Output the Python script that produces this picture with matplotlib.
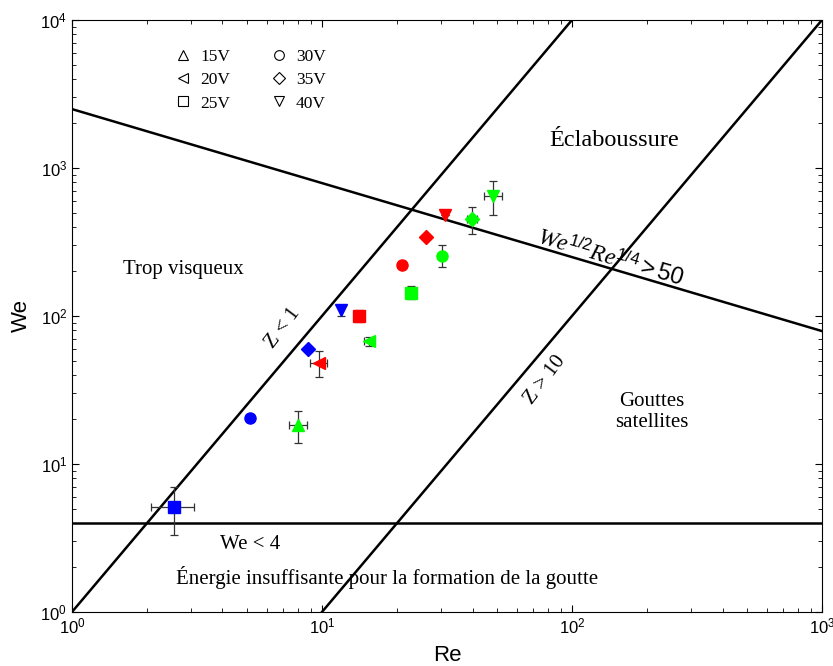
import numpy as np
import matplotlib.pyplot as plt
from matplotlib.lines import Line2D

# donnees (Re, We) par serie
markers_v = {'15V': '^', '20V': '<', '25V': 's', '30V': 'o', '35V': 'D', '40V': 'v'}

blue_v = ['25V', '30V', '35V', '40V']
blue_re = [2.56, 5.17, 8.82, 11.9]
blue_we = [5.12, 20.5, 60.1, 109.7]
blue_we_lo = [3.3, 20.5, 60.1, 100.5]
blue_we_hi = [7.0, 20.5, 60.1, 119.5]
blue_re_lo = [2.07, 5.17, 8.82, 11.9]
blue_re_hi = [3.08, 5.17, 8.82, 11.9]

red_v = ['20V', '25V', '30V', '35V', '40V']
red_re = [9.7, 14.1, 20.8, 26.0, 31.0]
red_we = [48.3, 100.5, 222, 340, 479]
red_we_lo = [38.9, 91, 222, 340, 479]
red_we_hi = [57.8, 110, 222, 340, 479]
red_re_lo = [8.95, 14.1, 20.8, 26.0, 31.0]
red_re_hi = [10.5, 14.1, 20.8, 26.0, 31.0]

green_v = ['15V', '20V', '25V', '30V', '35V', '40V']
green_re = [8.04, 15.4, 22.6, 30.1, 39.9, 48.2]
green_we = [18.4, 67.5, 143.8, 254, 452, 647]
green_we_lo = [13.9, 63, 130, 213, 359, 480]
green_we_hi = [22.8, 72, 160, 301, 549, 816]
green_re_lo = [7.4, 14.7, 22.6, 30.1, 38.0, 44.3]
green_re_hi = [8.7, 15.9, 22.6, 30.1, 41.8, 52.4]

series = [
    ('#0000ff', blue_v, blue_re, blue_we, blue_re_lo, blue_re_hi, blue_we_lo, blue_we_hi),
    ('#ff0000', red_v, red_re, red_we, red_re_lo, red_re_hi, red_we_lo, red_we_hi),
    ('#00ff00', green_v, green_re, green_we, green_re_lo, green_re_hi, green_we_lo, green_we_hi),
]

plt.rcParams['font.family'] = 'Liberation Sans'
plt.rcParams['mathtext.fontset'] = 'custom'
plt.rcParams['mathtext.rm'] = 'Liberation Sans'
plt.rcParams['mathtext.it'] = 'Liberation Serif:italic'

fig = plt.figure(figsize=(8.33, 6.66), dpi=100)
ax = fig.add_axes([0.0864, 0.0811, 0.9004, 0.8889])
ax.set_xscale('log')
ax.set_yscale('log')
ax.set_xlim(1, 1000)
ax.set_ylim(1, 1e4)

# frontieres
re = np.logspace(0, 3, 200)
ax.plot(re, re**2, 'k-', lw=1.8)                # Z = 1
ax.plot(re, (re / 10)**2, 'k-', lw=1.8)         # Z = 10
ax.plot(re, 2500 * re**-0.5, 'k-', lw=1.8)      # We^1/2 Re^1/4 = 50
ax.axhline(4, color='k', lw=1.8)                # We = 4

# points avec barres d'erreur
for color, volts, x, y, xlo, xhi, ylo, yhi in series:
    for i in range(len(x)):
        xerr = [[x[i] - xlo[i]], [xhi[i] - x[i]]]
        yerr = [[y[i] - ylo[i]], [yhi[i] - y[i]]]
        m = markers_v[volts[i]]
        ax.errorbar(x[i], y[i], xerr=xerr, yerr=yerr, fmt=m,
                    color=color, ms=7.2 if m == 'D' else 8, ecolor='#333333',
                    elinewidth=0.9, capsize=3, capthick=0.9, zorder=3)

# legende
handles = [Line2D([], [], ls='none', marker=m, mfc='none', mec='k',
                  ms=6 if m == 'D' else 7, mew=0.8)
           for m in markers_v.values()]
ax.legend(handles, list(markers_v.keys()), loc='upper left', bbox_to_anchor=(0.113, 0.977),
          ncol=2, frameon=False, prop={'family': 'Liberation Serif', 'size': 12.5},
          handletextpad=0.4, columnspacing=2.2, labelspacing=0.4, handlelength=1.2)

ax.text(2.78, 205, 'Trop visqueux', ha='center', va='center',
        family='Liberation Serif', size=15)
ax.text(148, 1540, 'Éclaboussure', ha='center', va='center',
        family='Liberation Serif', size=17.5)
ax.text(209, 22.6, 'Gouttes\nsatellites', ha='center', va='center',
        family='Liberation Serif', size=15, linespacing=1.15)
ax.text(5.15, 2.84, 'We < 4', ha='center', va='center',
        family='Liberation Serif', size=15)
ax.text(18.2, 1.70, 'Énergie insuffisante pour la formation de la goutte',
        ha='center', va='center', family='Liberation Serif', size=15)
ax.text(6.98, 83, 'Z < 1', ha='center', va='center', rotation=53,
        family='Liberation Serif', size=15)
ax.text(78, 37, 'Z > 10', ha='center', va='center', rotation=53,
        family='Liberation Serif', size=15)
ax.text(142, 247, r'$We^{1/2}Re^{1/4} > 50$', ha='center', va='center', rotation=-16.5,
        size=17)

ax.set_xlabel('Re', fontsize=16, labelpad=6)
ax.set_ylabel('We', fontsize=16, labelpad=6)
ax.tick_params(which='both', direction='in', top=True, right=True, labelsize=12)
ax.tick_params(which='major', length=5)
ax.tick_params(which='minor', length=3)

fig.savefig('out.png', dpi=100)
